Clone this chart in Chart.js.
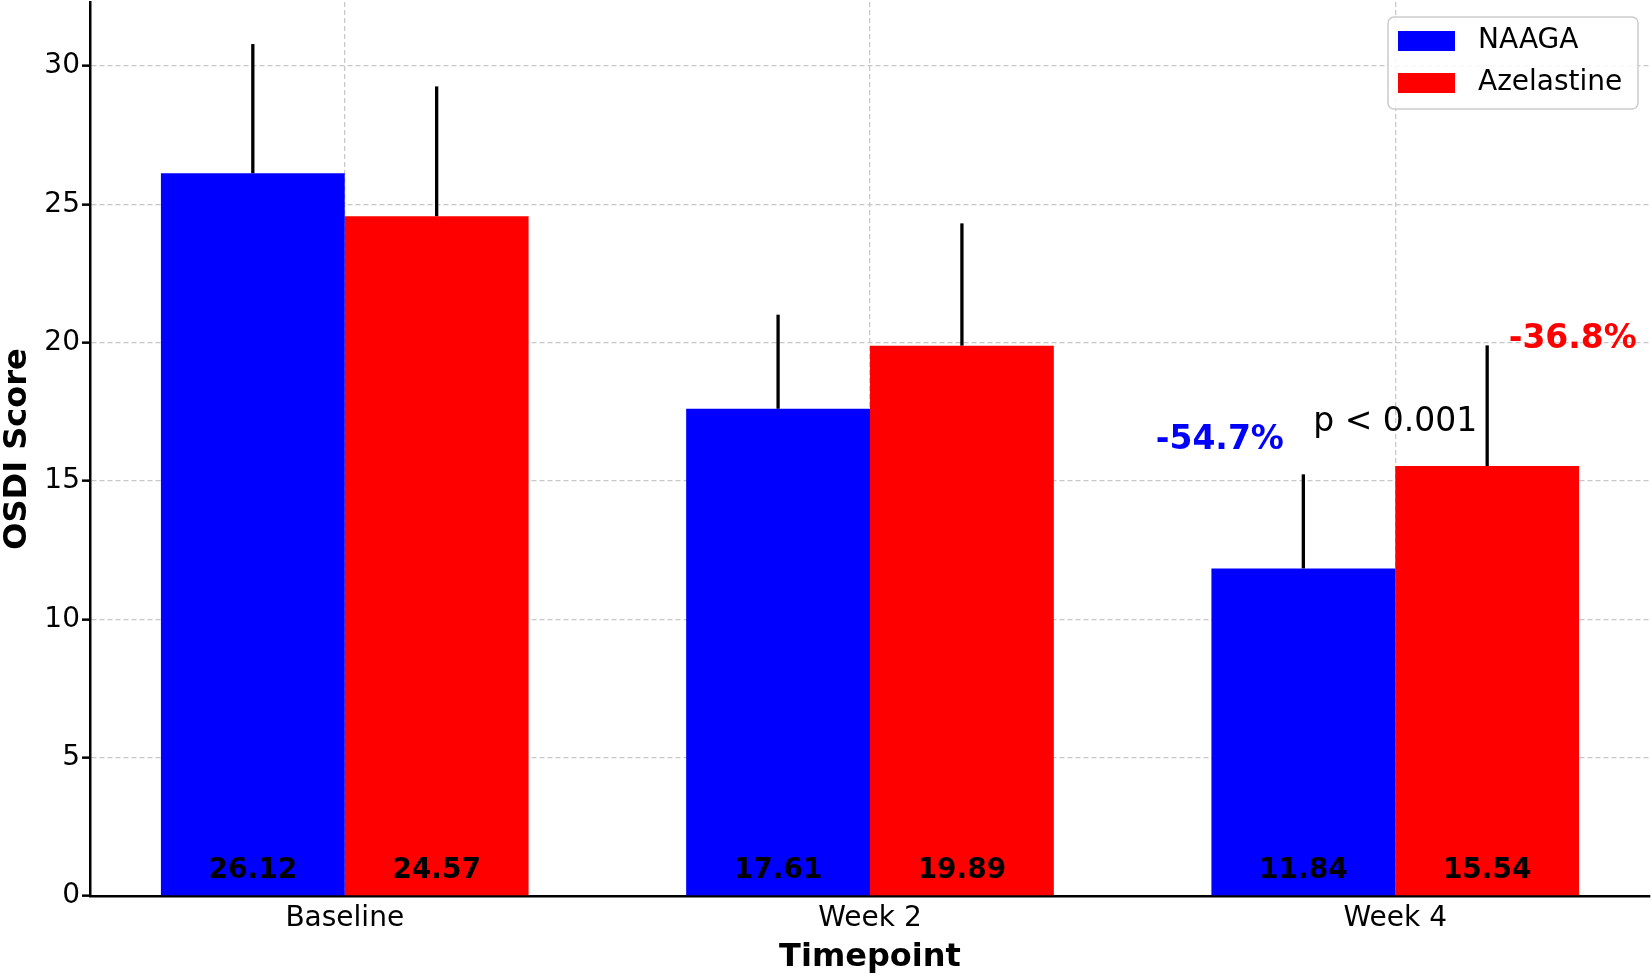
<!DOCTYPE html>
<html>
<head>
<meta charset="utf-8">
<script src="https://cdn.jsdelivr.net/npm/chart.js@4.4.1/dist/chart.umd.min.js"></script>
<style>
  html, body { margin: 0; padding: 0; background: #fff; }
  #wrap { width: 1652px; height: 976px; }
</style>
</head>
<body>
<div id="wrap"><canvas id="osdiChart"></canvas></div>
<script>
// values
var timepoints = ["Baseline", "Week 2", "Week 4"];
var naagaMean = [26.12, 17.61, 11.84];
var naagaSd = [4.67, 3.40, 3.40];
var azelastineMean = [24.57, 19.89, 15.54];
var azelastineSd = [4.69, 4.42, 4.36];
var yTicks = [0, 5, 10, 15, 20, 25, 30];

// text notes placed in data units (x = timepoint index)
var noteText = ["-54.7%", "p < 0.001", "-36.8%"];
var noteX = [1.666, 2.0, 2.338];
var noteY = [16.45, 17.1, 20.13];
var noteColor = ["#0000ff", "#000000", "#ff0000"];
var noteBold = [true, false, true];

var FONT = "'DejaVu Sans', sans-serif";
Chart.defaults.font.family = FONT;
Chart.defaults.color = "#000";

var sdList = [naagaSd, azelastineSd];

var overlay = {
    id: "overlay",
    afterDraw: function (chart) {
        var c = chart.ctx;
        var xs = chart.scales.x, ys = chart.scales.y;
        var area = chart.chartArea;
        c.save();

        // error bars (upper only) and value labels
        chart.data.datasets.forEach(function (ds, di) {
            var meta = chart.getDatasetMeta(di);
            meta.data.forEach(function (bar, i) {
                var top = ys.getPixelForValue(ds.data[i].y);
                var tip = ys.getPixelForValue(ds.data[i].y + sdList[di][i]);
                c.strokeStyle = "#000";
                c.lineWidth = 3.3;
                c.beginPath();
                c.moveTo(bar.x, top);
                c.lineTo(bar.x, tip);
                c.stroke();

                c.fillStyle = "#000";
                c.font = "bold 28px " + FONT;
                c.textAlign = "center";
                c.textBaseline = "middle";
                c.fillText(ds.data[i].y.toFixed(2), bar.x, ys.getPixelForValue(0.93));
            });
        });

        // percentage and p-value notes
        noteText.forEach(function (t, i) {
            c.fillStyle = noteColor[i];
            c.font = (noteBold[i] ? "bold " : "") + "33px " + FONT;
            c.textAlign = "center";
            c.textBaseline = "middle";
            c.fillText(t, xs.getPixelForValue(noteX[i]), ys.getPixelForValue(noteY[i]));
        });

        // legend box in the upper right corner
        var bx = area.right - 262, by = area.top + 15, bw = 250, bh = 92;
        c.beginPath();
        c.roundRect(bx, by, bw, bh, 6);
        c.fillStyle = "rgba(255,255,255,0.85)";
        c.fill();
        c.strokeStyle = "#cccccc";
        c.lineWidth = 1.5;
        c.stroke();
        chart.data.datasets.forEach(function (ds, di) {
            var cy = by + 24 + di * 42;
            c.fillStyle = ds.backgroundColor;
            c.fillRect(bx + 10, cy - 10, 57, 20);
            c.fillStyle = "#000";
            c.font = "28px " + FONT;
            c.textAlign = "left";
            c.textBaseline = "middle";
            c.fillText(ds.label, bx + 90, cy);
        });
        c.restore();
    }
};

var ctx = document.getElementById("osdiChart");

var data = {
    datasets: [
        {
            label: "NAAGA",
            backgroundColor: "#0000ff",
            data: timepoints.map(function (t, i) { return { x: i, y: naagaMean[i] }; })
        },
        {
            label: "Azelastine",
            backgroundColor: "#ff0000",
            data: timepoints.map(function (t, i) { return { x: i, y: azelastineMean[i] }; })
        }
    ]
};

var options = {
    responsive: true,
    maintainAspectRatio: false,
    animation: false,
    layout: { padding: { top: 2, right: 2, bottom: 0, left: 0 } },
    datasets: { bar: { categoryPercentage: 0.7, barPercentage: 1.0, borderWidth: 0 } },
    plugins: { legend: { display: false }, tooltip: { enabled: false } },
    scales: {
        x: {
            type: "linear",
            min: -0.485,
            max: 2.485,
            offset: false,
            z: 1,
            afterBuildTicks: function (s) {
                s.ticks = timepoints.map(function (t, i) { return { value: i }; });
            },
            afterFit: function (s) { s.height = 80; s.paddingLeft = 0; s.paddingRight = 0; },
            ticks: {
                font: { size: 28 },
                padding: 0,
                callback: function (v) { return timepoints[v]; }
            },
            grid: {
                offset: false,
                color: "#c8c8c8",
                lineWidth: 1.3,
                tickLength: 6,
                tickColor: "rgba(0,0,0,0)"
            },
            border: { color: "#000", width: 2.5, dash: [5, 3] },
            title: {
                display: true,
                text: "Timepoint",
                font: { size: 32, weight: "bold", lineHeight: 1 },
                padding: { top: 0, bottom: 2 }
            }
        },
        y: {
            min: 0,
            max: 32.31,
            z: 1,
            afterBuildTicks: function (s) {
                s.ticks = yTicks.map(function (v) { return { value: v }; });
            },
            afterFit: function (s) { s.width = 90; s.paddingTop = 0; s.paddingBottom = 0; },
            ticks: { font: { size: 28 }, padding: 2 },
            grid: {
                color: "#c8c8c8",
                lineWidth: 1.3,
                tickLength: 8,
                tickColor: "#000",
                tickWidth: 2.5
            },
            border: { color: "#000", width: 2.5, dash: [5, 3] },
            title: {
                display: true,
                text: "OSDI Score",
                font: { size: 32, weight: "bold", lineHeight: 1 },
                padding: { top: 2, bottom: 0 }
            }
        }
    }
};

var osdiChart = new Chart(ctx, {
    type: "bar",
    data: data,
    options: options,
    plugins: [overlay]
});
</script>
</body>
</html>
